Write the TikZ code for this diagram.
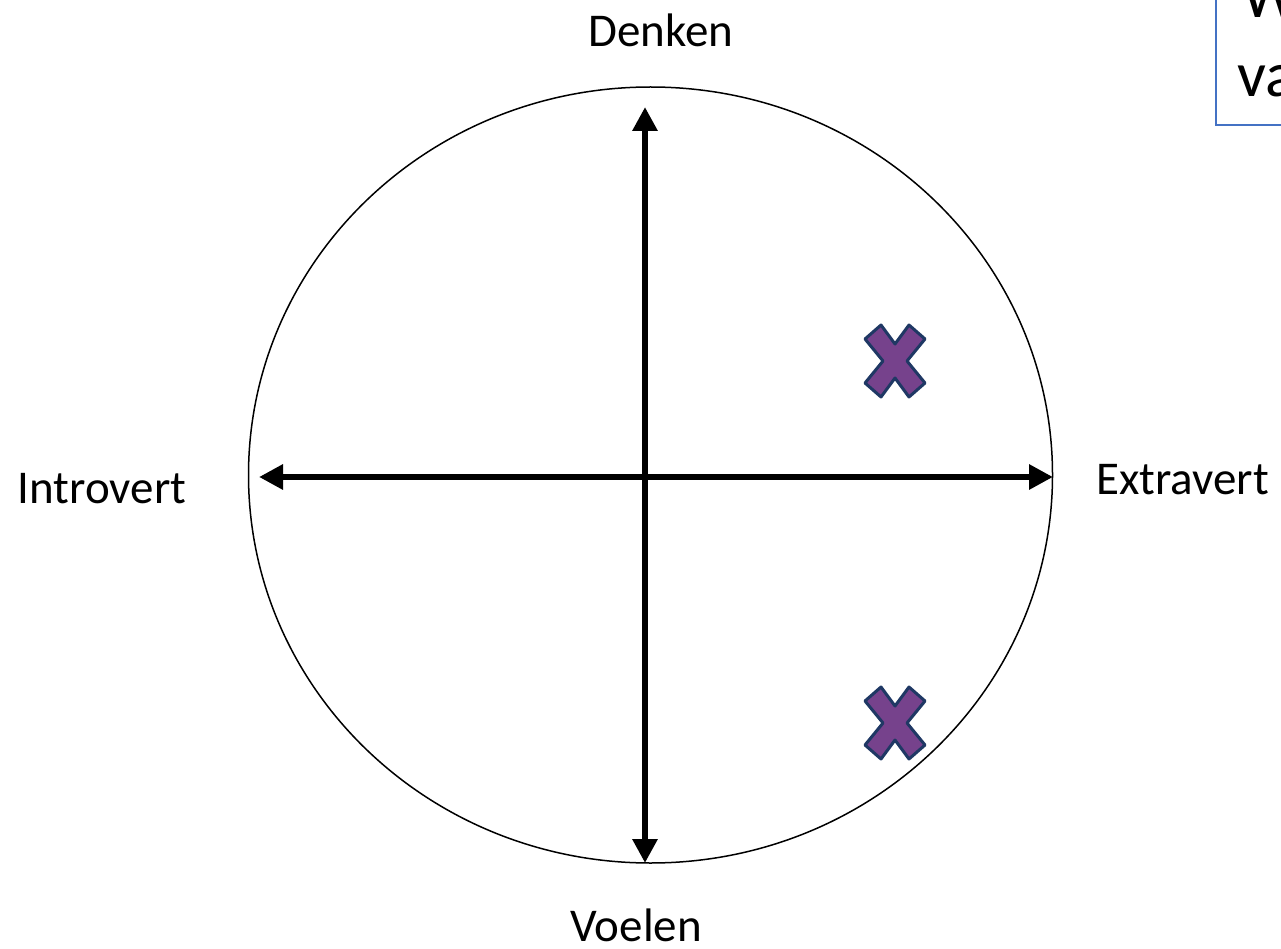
\documentclass[tikz,border=0pt]{standalone}
\usepackage{fontspec}
\setmainfont{Carlito}
\usetikzlibrary{arrows.meta,positioning}
\definecolor{kruiscolor}{RGB}{118,66,140}
\definecolor{randcolor}{RGB}{31,56,100}
\definecolor{vakcolor}{RGB}{68,114,196}

\begin{document}
\begin{tikzpicture}[
    x=1pt, y=-1pt,
    label/.style={font=\fontsize{47}{56}\selectfont, inner sep=0pt},
    axis/.style={{Triangle[length=24pt,width=24pt]}-{Triangle[length=24pt,width=24pt]}, line width=6pt},
    kruis/.pic={
        \draw[fill=kruiscolor, draw=randcolor, line width=3pt, line join=round]
            (-30,-22) -- (-14,-36) -- (0,-17) -- (14,-36) -- (30,-22) -- (12,0)
            -- (30,22) -- (14,36) -- (0,17) -- (-14,36) -- (-30,22) -- (-12,0) -- cycle;
    }
]
    \clip (0,0) rectangle (1281,949);
    \fill[white] (0,0) rectangle (1281,949);

    % circle
    \draw[line width=1.5pt] (650.5,475) ellipse [x radius=402, y radius=388];

    % axis ends
    \coordinate (boven) at (645,107);
    \coordinate (onder) at (645,863);
    \coordinate (links) at (259,477);
    \coordinate (rechts) at (1053,477);

    \draw[axis] (onder) -- (boven);
    \draw[axis] (links) -- (rechts);

    % labels
    \node[label] (denken) at (661,30) {Denken};
    \node[label] (voelen) at (636,925) {Voelen};
    \node[label] (introvert) at (102,489) {Introvert};
    \node[label, anchor=west] (extravert) at (1096,480) {Extravert};

    % crosses
    \pic at (895,361) {kruis};
    \pic at (895,723) {kruis};

    % text box, top right
    \draw[vakcolor, line width=2pt] (1216,-10) -- (1216,125) -- (1300,125);
    \node[font=\fontsize{64}{79}\selectfont, anchor=base west, inner sep=0pt] (woord1) at (1242,18) {W};
    \node[font=\fontsize{64}{79}\selectfont, anchor=base west, inner sep=0pt] (woord2) at (1237,97) {va};
\end{tikzpicture}
\end{document}
